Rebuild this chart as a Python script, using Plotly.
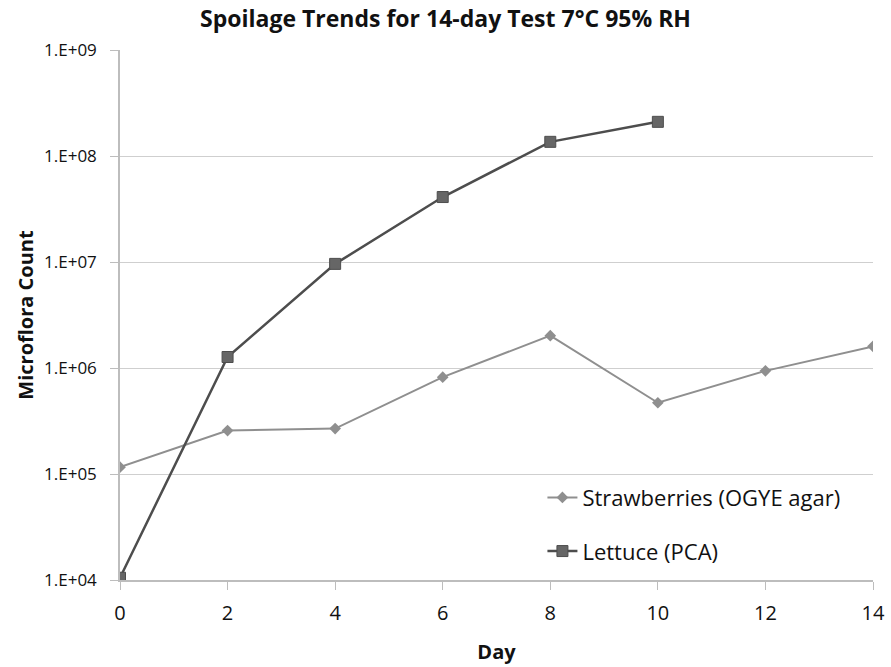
import plotly.graph_objects as go

days_straw = [0, 2, 4, 6, 8, 10, 12, 14]
straw = [1.16e5, 2.57e5, 2.68e5, 8.2e5, 2.02e6, 4.7e5, 9.4e5, 1.6e6]
days_lettuce = [0, 2, 4, 6, 8, 10]
lettuce = [1.05e4, 1.27e6, 9.6e6, 4.1e7, 1.36e8, 2.1e8]
y_tickvals = [1e4, 1e5, 1e6, 1e7, 1e8, 1e9]
y_ticktext = ["1.E+04", "1.E+05", "1.E+06", "1.E+07", "1.E+08", "1.E+09"]
x_ticks = [0, 2, 4, 6, 8, 10, 12, 14]

fig = go.Figure()
fig.add_trace(go.Scatter(
    x=days_straw, y=straw, mode="lines+markers", name="Strawberries (OGYE agar)",
    line=dict(color="#8f8f8f", width=2), legendgroup="a",
    marker=dict(symbol="diamond", size=9, color="#8f8f8f")))
fig.add_trace(go.Scatter(
    x=days_lettuce, y=lettuce, mode="lines+markers", name="Lettuce (PCA)",
    line=dict(color="#4d4d4d", width=2.5), legendgroup="b",
    marker=dict(symbol="square", size=11, color="#666666", line=dict(color="#4d4d4d", width=1))))

fig.update_layout(
    width=891, height=667,
    margin=dict(l=120, r=18, t=50, b=87),
    paper_bgcolor="white", plot_bgcolor="white",
    font=dict(family="Open Sans, sans-serif", color="#222"),
    title=dict(text="<b>Spoilage Trends for 14-day Test 7°C 95% RH</b>",
               x=0.5, xanchor="center", y=0.972, yanchor="middle",
               font=dict(size=23, color="#111")),
    legend=dict(x=0.561, y=0.195, xanchor="left", yanchor="top",
                bgcolor="rgba(0,0,0,0)", font=dict(size=22, color="#111"),
                tracegroupgap=22, itemwidth=30),
    showlegend=True,
)
fig.update_xaxes(range=[0, 14], tickvals=x_ticks, showgrid=False, zeroline=False,
                 automargin=False,
                 showline=True, linecolor="#bdbdbd", linewidth=1.5,
                 ticks="outside", ticklen=8, tickcolor="#bdbdbd",
                 ticklabelstandoff=6,
                 tickfont=dict(size=20, color="#111"),
                 title=dict(text="<b>Day</b>", font=dict(size=20, color="#111"), standoff=20))
fig.update_yaxes(type="log", range=[4, 9], tickvals=y_tickvals, ticktext=y_ticktext,
                 automargin=False,
                 showgrid=True, gridcolor="#cfcfcf", gridwidth=1.2, zeroline=False,
                 showline=True, linecolor="#bdbdbd", linewidth=1.5,
                 ticks="outside", ticklen=8, tickcolor="#bdbdbd",
                 ticklabelstandoff=10,
                 tickfont=dict(size=17, color="#111"),
                 title=dict(text="<b>Microflora Count</b>", font=dict(size=20, color="#111"), standoff=5))

fig.write_html("out.html", config={"displayModeBar": False},
               post_script="document.body.style.margin='0';")
